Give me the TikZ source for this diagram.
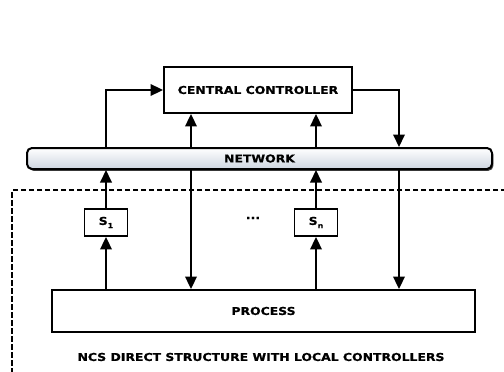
\documentclass[tikz,border=0pt]{standalone}
\usepackage{fontspec}
\setmainfont{DejaVu Sans}[FakeStretch=1.15,BoldFeatures={FakeBold=0.8}]
\usetikzlibrary{arrows.meta,shadows,calc}
\begin{document}
\begin{tikzpicture}[x=1pt,y=-1pt,
  every node/.style={font=\fontsize{10.8}{12}\selectfont\bfseries},
  blk/.style={draw=black,line width=1.9pt,fill=white,inner sep=0pt},
  bus/.style={draw=black,line width=2pt,rounded corners=5pt,inner sep=0pt,
    top color=white,bottom color={rgb,255:red,205;green,213;blue,224},
    drop shadow={shadow xshift=1.4pt,shadow yshift=-1.8pt,opacity=0.75,fill=black}},
  arr/.style={line width=2pt,-{Triangle[length=12.5pt,width=11.5pt]}},
  frame/.style={line width=1.2pt,dash pattern=on 5.5pt off 2.5pt}]
\useasboundingbox (0,0) rectangle (504,372);

% blocks
\node[blk,minimum width=188pt,minimum height=46pt] (cc) at (258,90) {CENTRAL CONTROLLER};
\node[bus,minimum width=465pt,minimum height=21pt] (net) at (259.5,158.5) {NETWORK};
\node[blk,minimum width=43pt,minimum height=27pt] (s1) at (106,222.5)
  {S\raisebox{-0.55ex}{\fontsize{7}{7}\selectfont 1}};
\node[blk,minimum width=43pt,minimum height=27pt] (sn) at (316,222.5)
  {S\raisebox{-0.55ex}{\fontsize{7}{7}\selectfont n}};
\node (dots) at (253,218) {...};
\node[blk,minimum width=423pt,minimum height=42pt] (proc) at (263.5,311) {PROCESS};
\node (cap) at (261,357) {NCS DIRECT STRUCTURE WITH LOCAL CONTROLLERS};

% column positions of the links
\coordinate (xa) at (191,0);
\coordinate (xc) at (399,0);

% dashed frame around the local part
\coordinate (fr) at (506,190);
\coordinate (fl) at (12,374);
\draw[frame] (fr) -| (fl);

% network <-> central controller
\draw[arr] (s1 |- net.north) |- (cc.west);
\draw[arr] (xa |- net.north) -- (xa |- cc.south);
\draw[arr] (sn |- net.north) -- (sn |- cc.south);
\draw[arr] (cc.east) -| (xc |- net.north);

% sensors and actuator links
\draw[arr] (s1.north) -- (s1 |- net.south);
\draw[arr] (sn.north) -- (sn |- net.south);
\draw[arr] (s1 |- proc.north) -- (s1.south);
\draw[arr] (sn |- proc.north) -- (sn.south);
\draw[arr] (xa |- net.south) -- (xa |- proc.north);
\draw[arr] (xc |- net.south) -- (xc |- proc.north);
\end{tikzpicture}
\end{document}
